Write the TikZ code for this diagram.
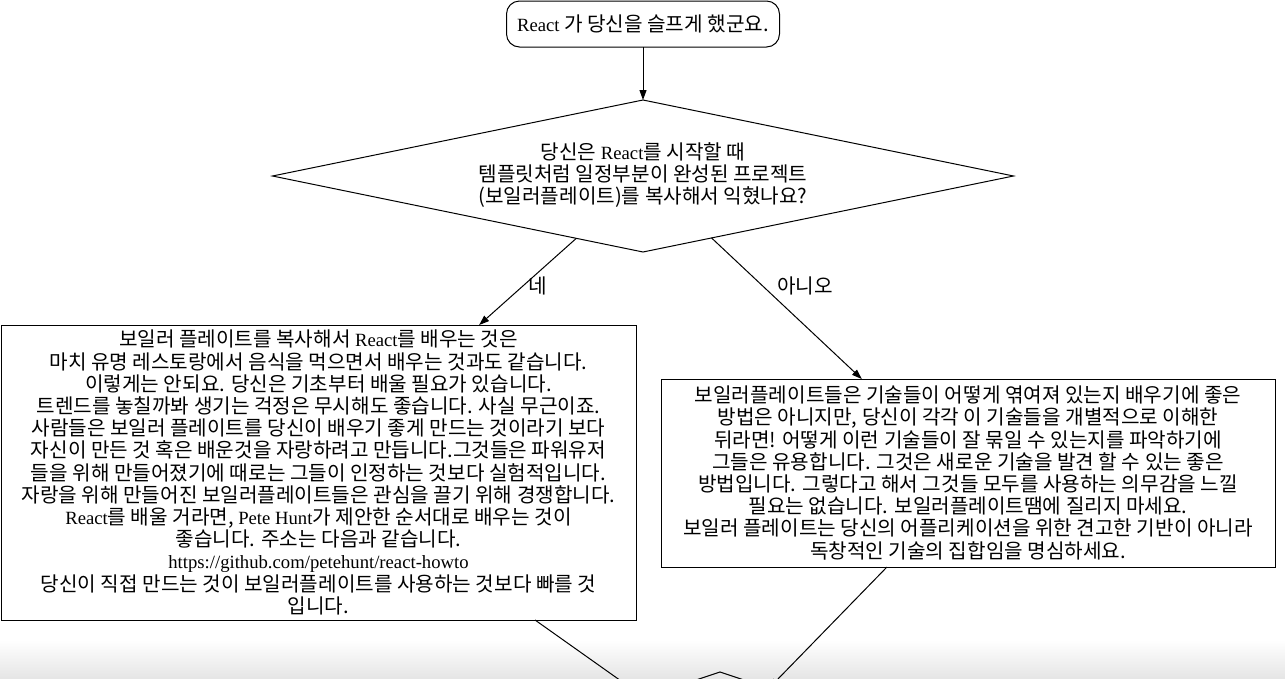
\documentclass[tikz,border=0pt]{standalone}
\usepackage{fontspec}
\setmainfont{Noto Sans CJK KR}[Scale=1.08]
\newfontfamily\latfont{Liberation Serif}
\usetikzlibrary{shapes.geometric,arrows.meta,calc}
\begin{document}
\begin{tikzpicture}[x=1pt,y=-1pt,
  every node/.style={font=\fontsize{18.67}{22.2}\selectfont, inner sep=0pt, outer sep=0pt},
  box/.style={draw, line width=1pt, align=center},
  decision/.style={box, diamond, aspect=4.875},
  conn/.style={line width=1pt},
  arr/.style={conn, -{Triangle[length=10pt,width=7pt]}}]
\useasboundingbox (0,0) rectangle (1285,678);
\clip (0,0) rectangle (1285,678);
\shade[top color=white,bottom color=black!10] (0,640) rectangle (1285,678);

\node[box, rounded corners=13pt, minimum width=273pt, minimum height=46pt] (start) at (643,24)
  {{\latfont React} 가 당신을 슬프게 했군요.};

\node[decision, minimum width=741pt, minimum height=152pt] (q) at (643,176) {};
\node[align=center] (qtext) at (643,175)
  {당신은 {\latfont React}를 시작할 때\\
   템플릿처럼 일정부분이 완성된 프로젝트\\
   (보일러플레이트)를 복사해서 익혔나요?};

\node[box, minimum width=635pt, minimum height=295pt] (lbox) at (318.5,472.5)
  {보일러 플레이트를 복사해서 {\latfont React}를 배우는 것은\\
   마치 유명 레스토랑에서 음식을 먹으면서 배우는 것과도 같습니다.\\
   이렇게는 안되요. 당신은 기초부터 배울 필요가 있습니다.\\
   트렌드를 놓칠까봐 생기는 걱정은 무시해도 좋습니다. 사실 무근이죠.\\
   사람들은 보일러 플레이트를 당신이 배우기 좋게 만드는 것이라기 보다\\
   자신이 만든 것 혹은 배운것을 자랑하려고 만듭니다.그것들은 파워유저\\
   들을 위해 만들어졌기에 때로는 그들이 인정하는 것보다 실험적입니다.\\
   자랑을 위해 만들어진 보일러플레이트들은 관심을 끌기 위해 경쟁합니다.\\
   {\latfont React}를 배울 거라면, {\latfont Pete Hunt}가 제안한 순서대로 배우는 것이\\
   좋습니다. 주소는 다음과 같습니다.\\
   {\latfont https://github.com/petehunt/react-howto}\\
   당신이 직접 만드는 것이 보일러플레이트를 사용하는 것보다 빠를 것\\
   입니다.};

\node[box, minimum width=614pt, minimum height=188pt] (rbox) at (968,473)
  {보일러플레이트들은 기술들이 어떻게 엮여져 있는지 배우기에 좋은\\
   방법은 아니지만, 당신이 각각 이 기술들을 개별적으로 이해한\\
   뒤라면! 어떻게 이런 기술들이 잘 묶일 수 있는지를 파악하기에\\
   그들은 유용합니다. 그것은 새로운 기술을 발견 할 수 있는 좋은\\
   방법입니다. 그렇다고 해서 그것들 모두를 사용하는 의무감을 느낄\\
   필요는 없습니다. 보일러플레이트땜에 질리지 마세요.\\
   보일러 플레이트는 당신의 어플리케이션을 위한 견고한 기반이 아니라\\
   독창적인 기술의 집합임을 명심하세요.};

\node[box, diamond, minimum width=600pt, minimum height=200pt] (q2) at (720,772) {};

\node (yes) at (538,286) {네};
\node (no) at (805,286) {아니오};

\draw[arr] (start.south) -- (q.north);
\draw[arr] ($(q.west)!0.82!(q.south)$) -- ($(lbox.north west)!0.753!(lbox.north east)$);
\draw[arr] ($(q.east)!0.815!(q.south)$) -- ($(rbox.north west)!0.327!(rbox.north east)$);
\draw[arr] ($(lbox.south west)!0.841!(lbox.south east)$) -- ($(q2.north)!0.253!(q2.west)$);
\draw[arr] ($(rbox.south west)!0.368!(rbox.south east)$) -- ($(q2.north)!0.163!(q2.east)$);
\end{tikzpicture}
\end{document}
